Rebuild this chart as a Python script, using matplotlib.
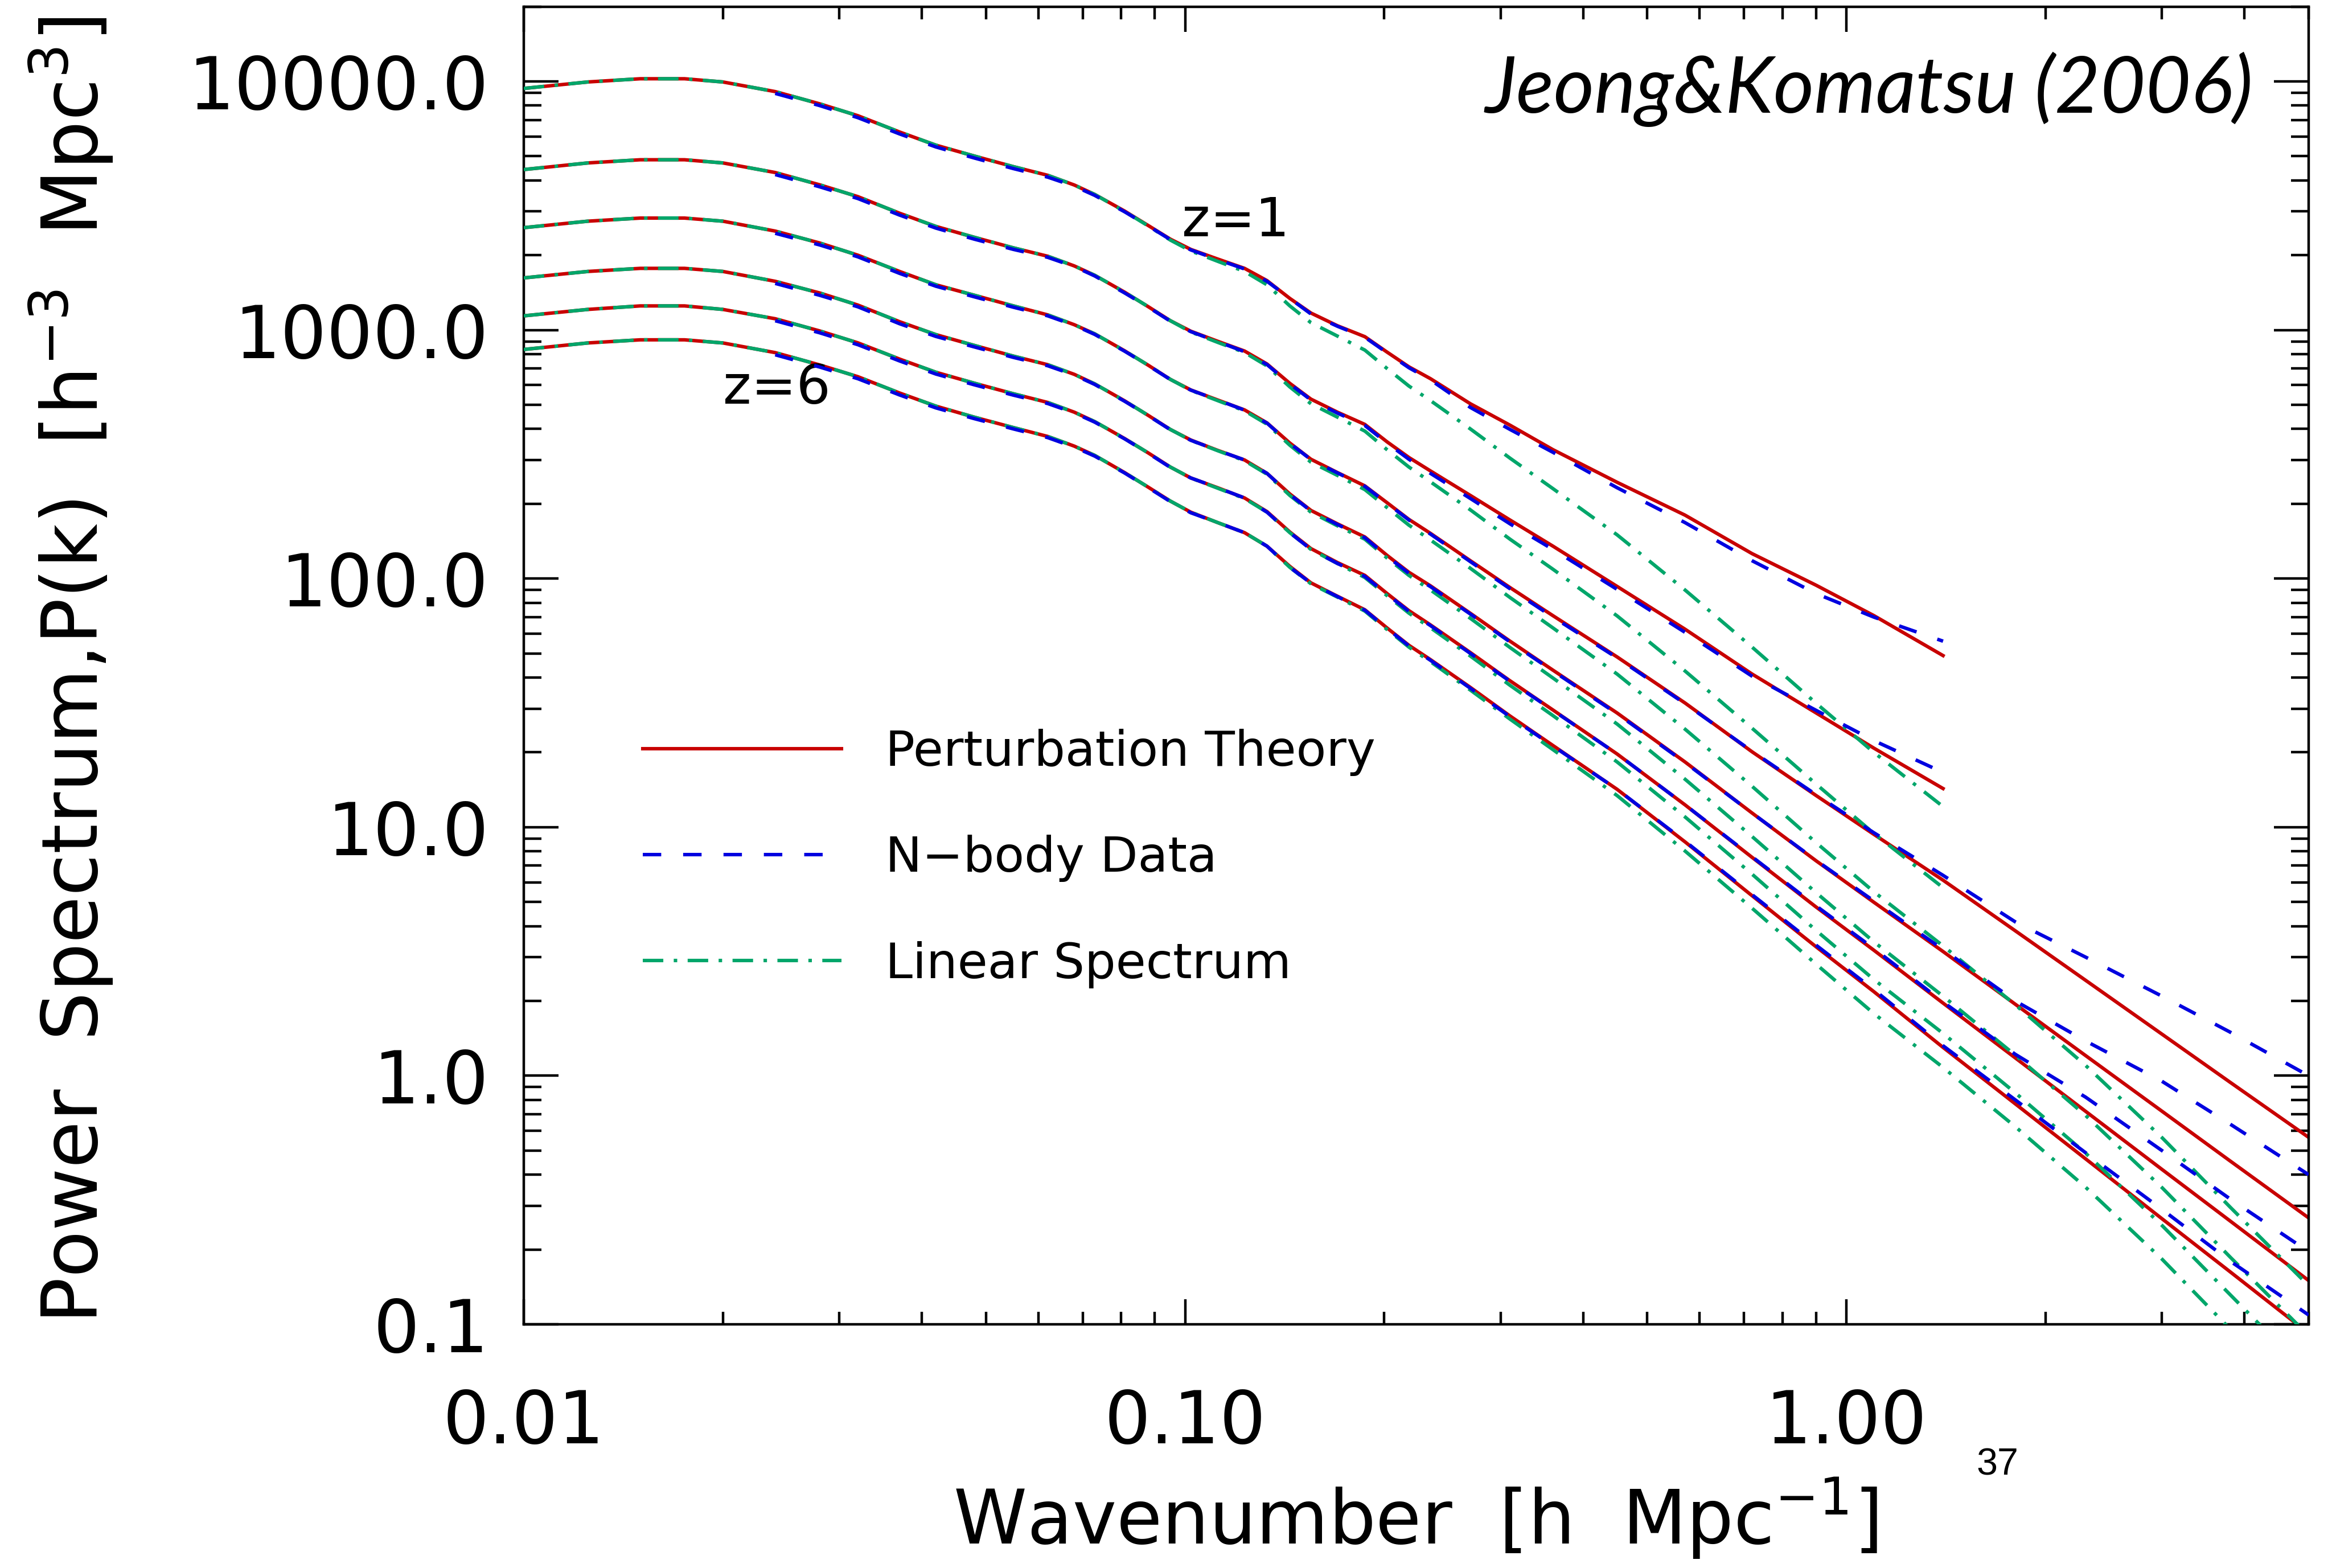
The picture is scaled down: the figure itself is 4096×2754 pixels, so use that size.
import numpy as np
import matplotlib
matplotlib.use("Agg")
import matplotlib.pyplot as plt
from matplotlib.lines import Line2D
from matplotlib.ticker import LogLocator, NullFormatter

nan = np.nan

# wavenumber grid [h/Mpc]
K = [0.010, 0.0125, 0.015, 0.0175, 0.020, 0.024, 0.028, 0.032, 0.037, 0.042,
     0.048, 0.055, 0.062, 0.068, 0.073, 0.081, 0.088, 0.095, 0.102, 0.112,
     0.123, 0.133, 0.144, 0.155, 0.170, 0.187, 0.202, 0.218, 0.235, 0.27,
     0.31, 0.36, 0.45, 0.57, 0.72, 0.90, 1.10, 1.40, 1.8, 2.3,
     3.0, 3.8, 5.0]

N5 = [nan] * 5

# z = 1
pt1 = [9370, 9950, 10250, 10250, 9950, 9100, 8130, 7280, 6260, 5540,
       5010, 4540, 4190, 3830, 3510, 3010, 2630, 2320, 2110, 1930,
       1770, 1580, 1340, 1170, 1040, 940, 815, 711, 637, 505,
       414, 330, 244, 180, 126, 94, 71, 49] + N5
nb1 = N5 + [8950, 8000, 7150, 6150, 5450,
            4920, 4460, 4120, 3790, 3480, 2990, 2620, 2310, 2100, 1920,
            1760, 1570, 1340, 1160, 1035, 935, 810, 705, 630, 488,
            398, 322, 232, 168, 118, 87, 70, 56] + N5
lin1 = [9370, 9950, 10250, 10250, 9950, 9100, 8130, 7280, 6260, 5540,
        5010, 4540, 4190, 3830, 3510, 3000, 2620, 2300, 2080, 1890,
        1720, 1520, 1250, 1070, 945, 830, 700, 595, 520, 400,
        305, 230, 150, 90, 53, 31.5, 20.0, 12.1] + N5

# z = 2
pt2 = [4420, 4700, 4840, 4840, 4700, 4300, 3840, 3440, 2950, 2610,
       2360, 2140, 1980, 1810, 1660, 1420, 1240, 1090, 989, 901,
       823, 730, 610, 527, 467, 417, 355, 307, 271, 216,
       172, 135, 93, 62.6, 41.3, 28.8, 20.8, 14.3] + N5
nb2 = N5 + [4220, 3770, 3380, 2900, 2570,
            2320, 2110, 1960, 1800, 1650, 1410, 1235, 1085, 985, 898,
            818, 726, 607, 523, 463, 413, 351, 302, 265, 210,
            166, 131, 90.5, 60.8, 40.5, 29.5, 22.3, 16.6] + N5
lin2 = [4420, 4700, 4840, 4840, 4700, 4300, 3840, 3440, 2950, 2610,
        2360, 2140, 1980, 1810, 1660, 1420, 1240, 1090, 982, 892,
        812, 717, 590, 505, 446, 392, 330, 281, 245, 189,
        144, 109, 70.8, 42.5, 25.0, 14.9, 9.44, 5.71] + N5

# z = 3
pt3 = [2580, 2740, 2820, 2820, 2740, 2500, 2240, 2000, 1720, 1520,
       1380, 1250, 1150, 1050, 965, 825, 721, 633, 574, 523,
       477, 423, 351, 302, 267, 236, 202, 173, 152, 118,
       92.0, 70.9, 48.4, 31.6, 20.1, 13.4, 9.36, 6.12, 3.83, 2.42,
       1.47, 0.943, 0.565]
nb3 = N5 + [2450, 2200, 1970, 1690, 1500,
            1360, 1235, 1140, 1045, 960, 822, 719, 632, 573, 523,
            476, 422, 350, 301, 266, 235, 201, 172, 151, 117,
            91.0, 70.0, 48.0, 31.4, 20.2, 13.5, 9.5, 6.4, 4.16, 3.0,
            2.09, 1.50, 1.0]
lin3 = [2580, 2740, 2820, 2820, 2740, 2500, 2240, 2000, 1720, 1520,
        1380, 1250, 1150, 1050, 965, 825, 721, 633, 572, 520,
        473, 418, 344, 294, 260, 228, 193, 164, 143, 110,
        83.9, 63.3, 41.3, 24.8, 14.6, 8.66, 5.50, 3.33, 1.93, 1.10,
        0.564, 0.297, 0.143]

# z = 4
pt4 = [1620, 1720, 1770, 1770, 1720, 1570, 1410, 1260, 1080, 958,
       867, 785, 725, 663, 607, 519, 453, 398, 361, 328,
       300, 265, 219, 188, 166, 147, 124, 106, 93.5, 72.5,
       56.0, 42.8, 28.8, 18.3, 11.4, 7.32, 4.99, 3.16, 1.94, 1.205,
       0.720, 0.455, 0.268]
nb4 = N5 + [1540, 1380, 1240, 1060, 942,
            855, 776, 718, 659, 604, 517, 452, 397, 360, 328,
            300, 265, 218, 187, 165, 146, 123, 105, 92.8, 72.0,
            55.6, 42.5, 28.6, 18.2, 11.4, 7.35, 5.05, 3.22, 2.0, 1.38,
            0.95, 0.64, 0.40]
lin4 = [1620, 1720, 1770, 1770, 1720, 1570, 1410, 1260, 1080, 958,
        867, 785, 725, 663, 607, 519, 453, 398, 360, 327,
        298, 263, 216, 185, 163, 144, 121, 103, 90.0, 69.2,
        52.8, 39.8, 26.0, 15.6, 9.17, 5.45, 3.46, 2.09, 1.21, 0.692,
        0.355, 0.187, 0.090]

# z = 5
pt5 = [1140, 1210, 1250, 1250, 1210, 1110, 992, 888, 764, 676,
       611, 554, 511, 467, 428, 366, 320, 281, 254, 232,
       211, 186, 154, 132, 116, 103, 87.1, 74.3, 65.1, 50.4,
       38.8, 29.6, 19.7, 12.3, 7.56, 4.77, 3.20, 1.96, 1.18, 0.719,
       0.420, 0.261, 0.150]
nb5 = N5 + [1090, 975, 873, 751, 665,
            602, 547, 506, 464, 426, 365, 319, 280, 254, 232,
            211, 185, 153, 131, 115, 102, 86.5, 73.8, 64.7, 50.0,
            38.6, 29.5, 19.7, 12.3, 7.6, 4.82, 3.25, 1.98, 1.22, 0.82,
            0.50, 0.32, 0.196]
lin5 = [1140, 1210, 1250, 1250, 1210, 1110, 992, 888, 764, 676,
        611, 554, 511, 467, 428, 366, 320, 281, 254, 231,
        210, 185, 153, 131, 115, 101, 85.4, 72.6, 63.4, 48.8,
        37.2, 28.1, 18.3, 11.0, 6.47, 3.84, 2.44, 1.48, 0.854, 0.488,
        0.250, 0.132, 0.063]

# z = 6
pt6 = [835, 887, 913, 913, 887, 811, 724, 649, 558, 494,
       446, 405, 373, 341, 313, 267, 233, 205, 185, 168,
       153, 135, 112, 96.1, 84.9, 74.9, 63.3, 53.9, 47.2, 36.5,
       28.0, 21.3, 14.2, 8.73, 5.30, 3.30, 2.18, 1.30, 0.771, 0.463,
       0.266, 0.163, 0.092]
nb6 = N5 + [795, 710, 637, 548, 486,
            440, 400, 369, 338, 311, 266, 232, 204, 184, 168,
            153, 135, 111, 95.8, 84.6, 74.6, 63.0, 53.6, 46.9, 36.2,
            27.8, 21.2, 14.2, 8.78, 5.35, 3.35, 2.22, 1.32, 0.80, 0.49,
            0.29, 0.18, 0.109]
lin6 = [835, 887, 913, 913, 887, 811, 724, 649, 558, 494,
        446, 405, 373, 341, 313, 267, 233, 205, 185, 168,
        153, 135, 111, 95.3, 84.2, 74.0, 62.4, 53.0, 46.3, 35.6,
        27.2, 20.5, 13.4, 8.02, 4.72, 2.81, 1.78, 1.08, 0.624, 0.356,
        0.183, 0.096, 0.046]

PT = [pt1, pt2, pt3, pt4, pt5, pt6]
NB = [nb1, nb2, nb3, nb4, nb5, nb6]
LIN = [lin1, lin2, lin3, lin4, lin5, lin6]

X_TICKS = [0.01, 0.1, 1.0]
X_TICK_LABELS = ["0.01", "0.10", "1.00"]
Y_TICKS = [0.1, 1.0, 10.0, 100.0, 1000.0, 10000.0]
Y_TICK_LABELS = ["0.1", "1.0", "10.0", "100.0", "1000.0", "10000.0"]
LEGEND_LABELS = ["Perturbation Theory", "N\u2212body Data", "Linear Spectrum"]

RED = "#C80000"
BLUE = "#0000E0"
GREEN = "#00A66A"
LW = 2.2
DASH = (0, (5.3, 6.3))
DASHDOT = (0, (5.9, 3.0, 1.0, 3.0))

plt.rcParams["font.family"] = ["DejaVu Sans"]
plt.rcParams["mathtext.default"] = "regular"

fig = plt.figure(figsize=(20.48, 13.77), dpi=200)
ax = fig.add_axes([0.2246, 0.1554, 0.990 - 0.2246, 0.9958 - 0.1554])
ax.set_xscale("log")
ax.set_yscale("log")

for pt, nb, lin in zip(PT, NB, LIN):
    ax.plot(K, pt, color=RED, lw=LW, zorder=2)
    ax.plot(K, lin, color=GREEN, lw=LW, ls=DASHDOT, zorder=3)
    ax.plot(K, nb, color=BLUE, lw=LW, ls=DASH, zorder=4)

ax.set_xlim(0.01, 5.0)
ax.set_ylim(0.1, 2e4)

ax.set_xticks(X_TICKS)
ax.set_xticklabels(X_TICK_LABELS)
ax.set_yticks(Y_TICKS)
ax.set_yticklabels(Y_TICK_LABELS)
ax.xaxis.set_minor_locator(LogLocator(base=10, subs=np.arange(2, 10)))
ax.yaxis.set_minor_locator(LogLocator(base=10, subs=np.arange(2, 10)))
ax.xaxis.set_minor_formatter(NullFormatter())
ax.yaxis.set_minor_formatter(NullFormatter())

ax.tick_params(which="both", direction="in", top=True, right=True, width=1.6)
ax.tick_params(axis="y", which="major", length=22, pad=22, labelsize=46)
ax.tick_params(axis="y", which="minor", length=11)
ax.tick_params(axis="x", which="major", length=16, pad=40, labelsize=46)
ax.tick_params(axis="x", which="minor", length=8)
for sp in ax.spines.values():
    sp.set_linewidth(1.6)

handles = [Line2D([], [], color=RED, lw=LW),
           Line2D([], [], color=BLUE, lw=LW, ls=DASH),
           Line2D([], [], color=GREEN, lw=LW, ls=DASHDOT)]
ax.legend(handles, LEGEND_LABELS, loc="upper left", bbox_to_anchor=(0.0667, 0.452),
          frameon=False, fontsize=31, handlelength=4.05, handletextpad=0.9,
          labelspacing=1.2, borderpad=0, borderaxespad=0)

ax.text(0.969, 0.937, "Jeong&Komatsu (2006)", transform=ax.transAxes,
        ha="right", va="center", fontsize=49.5, style="italic", family="Lato")
ax.text(0.399, 0.837, "z=1", transform=ax.transAxes, ha="center", va="center", fontsize=34)
ax.text(0.1417, 0.710, "z=6", transform=ax.transAxes, ha="center", va="center", fontsize=34)

fig.text(0.607, 0.032, "Wavenumber  [h  Mpc$^{-1}$]", ha="center", va="center", fontsize=47)
fig.text(0.0306, 0.5725, "Power  Spectrum,P(k)  [h$^{-3}$  Mpc$^{3}$]", ha="center", va="center",
         rotation=90, fontsize=48.5)
fig.text(0.8565, 0.0655, "37", ha="center", va="center", fontsize=24, family="Liberation Sans")

fig.savefig("out.png", dpi=200)
